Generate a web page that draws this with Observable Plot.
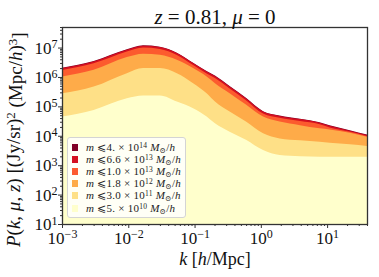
<!DOCTYPE html>
<html><head><meta charset="utf-8">
<script src="https://cdn.jsdelivr.net/npm/d3@7"></script>
<script src="https://cdn.jsdelivr.net/npm/@observablehq/plot@0.6"></script>
<style>
body{margin:0;background:#fff}
#wrap{position:relative;width:379px;height:277px;overflow:hidden}
#wrap svg text{font-family:"Liberation Serif","DejaVu Serif",serif !important}
#legend{position:absolute;left:67px;top:137px;width:119px;height:81px;box-sizing:border-box;border:1px solid #d4d4d4;border-radius:3px;background:rgba(255,255,255,0.82);font-family:"Liberation Serif","DejaVu Serif",serif;font-size:11px;letter-spacing:0.25px;color:#222}
.row{position:absolute;left:0;height:12px;display:flex;align-items:center;white-space:nowrap}
.sw{width:6px;height:7px;margin-left:4px;margin-right:8px;flex:none}
.row sup{font-size:7.5px;vertical-align:3.5px;line-height:0}
.row sub{font-size:7.5px;vertical-align:-1.5px;line-height:0}
</style></head><body><div id="wrap"></div>
<script>
// wavenumber k [h/Mpc]
const k = [0.001, 0.003, 0.0095, 0.0167, 0.030, 0.054, 0.095, 0.152, 0.203, 0.338, 0.596, 1.08, 1.92, 3.9, 7.7, 10.9, 22, 40];
// P(k) for each mass cut
const P_4e14   = [2.07e6, 3.50e6, 8.75e6, 1.20e7, 1.075e7, 6.70e6, 3.06e6, 1.59e6, 1.115e6, 4.90e5, 1.95e5, 6.87e4, 4.90e4, 3.81e4, 2.89e4, 2.28e4, 1.54e4, 1.095e4];
const P_6p6e13 = [2.0e6, 3.38e6, 8.47e6, 1.16e7, 1.04e7, 6.49e6, 2.96e6, 1.54e6, 1.08e6, 4.74e5, 1.89e5, 6.65e4, 4.74e4, 3.69e4, 2.80e4, 2.21e4, 1.49e4, 1.06e4];
const P_1e13   = [1.72e6, 2.90e6, 7.3e6, 1.0e7, 8.95e6, 5.58e6, 2.55e6, 1.32e6, 9.3e5, 4.08e5, 1.63e5, 5.72e4, 4.08e4, 3.17e4, 2.47e4, 1.92e4, 1.36e4, 9.7e3];
const P_1p8e12 = [1.04e6, 1.76e6, 4.74e6, 6.19e6, 5.72e6, 3.86e6, 2.0e6, 1.04e6, 6.14e5, 2.80e5, 1.15e5, 4.49e4, 3.03e4, 2.30e4, 1.79e4, 1.65e4, 1.28e4, 9.3e3];
const P_3e11   = [2.80e5, 4.74e5, 1.35e6, 2.0e6, 2.0e6, 1.35e6, 6.14e5, 2.80e5, 1.46e5, 6.65e4, 3.03e4, 1.21e4, 8.15e3, 7.08e3, 6.29e3, 5.82e3, 5.17e3, 4.49e3];
const P_5e10   = [4.49e4, 7.60e4, 1.89e5, 2.34e5, 2.34e5, 1.46e5, 8.61e4, 4.49e4, 2.65e4, 1.38e4, 7.36e3, 3.27e3, 2.21e3, 2.01e3, 1.94e3, 1.94e3, 1.94e3, 1.94e3];

const massMant = ["4.", "6.6", "1.0", "1.8", "3.0", "5."];
const massExp = [14, 13, 13, 12, 11, 10];
const colors = ["#800026", "#d41020", "#fc5b2e", "#feab49", "#fee087", "#ffffcc"];
const seriesP = [P_4e14, P_6p6e13, P_1e13, P_1p8e12, P_3e11, P_5e10];

const xTicks = [1e-3, 1e-2, 1e-1, 1, 10];
const yTicks = [1e1, 1e2, 1e3, 1e4, 1e5, 1e6, 1e7];
const xDomain = [1e-3, 40];
const yDomain = [1e1, 5e7];

const xMinor = xTicks.flatMap(t => d3.range(2, 10).map(m => m * t)).filter(v => v <= xDomain[1]);
const yMinor = yTicks.flatMap(t => d3.range(2, 10).map(m => m * t)).filter(v => v <= yDomain[1]);

const rows = seriesP.flatMap((P, s) => k.map((kk, i) => ({k: kk, P: P[i], s})));

const serif = '"Liberation Serif", "DejaVu Serif", serif';
const fmt = d => "10^" + Math.round(Math.log10(d));

const chart = Plot.plot({
  width: 379, height: 277,
  marginLeft: 62, marginRight: 12, marginTop: 27, marginBottom: 53,
  style: {background: "#fff", fontFamily: serif},
  x: {type: "log", domain: xDomain},
  y: {type: "log", domain: yDomain},
  marks: [
    ...seriesP.map((P, s) => Plot.areaY(rows.filter(r => r.s === s), {x: "k", y1: yDomain[0], y2: "P", fill: colors[s], curve: "monotone-x"})),
    Plot.axisX({ticks: xMinor, tickSize: 2, tickFormat: () => "", label: null, stroke: "#333"}),
    Plot.axisY({ticks: yMinor, tickSize: 2, tickFormat: () => "", label: null, stroke: "#333"}),
    Plot.axisX({ticks: xTicks, tickSize: 4, tickPadding: 3, tickFormat: fmt, label: null, fontSize: 17, stroke: "#333", fill: "#111"}),
    Plot.axisY({ticks: yTicks, tickSize: 4, tickPadding: 1, tickFormat: fmt, label: null, fontSize: 17, stroke: "#333", fill: "#111"}),
    Plot.frame({stroke: "#333", strokeWidth: 1.3})
  ]
});

const svg = d3.select(chart);
// superscript tick labels
svg.selectAll("g[aria-label$='tick label'] text").each(function() {
  const t = d3.select(this);
  const s = t.text();
  if (!s.includes("^")) return;
  const [base, ex] = s.split("^");
  t.text(base);
  t.append("tspan").attr("dy", "-0.45em").attr("font-size", "12px").text(ex.replace("-", "\u2212"));
});

// title
const title = svg.append("text").attr("x", 215).attr("y", 24).attr("text-anchor", "middle")
  .attr("font-size", 21).attr("fill", "#111");
title.append("tspan").attr("font-style", "italic").text("z");
title.append("tspan").text(" = 0.81, ");
title.append("tspan").attr("font-style", "italic").text("μ");
title.append("tspan").text(" = 0");

// x label
const xl = svg.append("text").attr("x", 215).attr("y", 265).attr("text-anchor", "middle")
  .attr("font-size", 18).attr("fill", "#111");
xl.append("tspan").attr("font-style", "italic").text("k");
xl.append("tspan").text(" [");
xl.append("tspan").attr("font-style", "italic").text("h");
xl.append("tspan").text("/Mpc]");

// y label
const yl = svg.append("text").attr("transform", "translate(20,247) rotate(-90)").attr("text-anchor", "start")
  .attr("font-size", 19).attr("fill", "#111");
const parts = [["P", 1], ["(", 0], ["k", 1], [", ", 0], ["μ", 1], [", ", 0], ["z", 1], [") [(Jy/sr)", 0]];
parts.forEach(([t, it]) => yl.append("tspan").attr("font-style", it ? "italic" : "normal").text(t));
yl.append("tspan").attr("dy", "-0.4em").attr("font-size", "13px").text("2");
yl.append("tspan").attr("dy", "0.4em").text(" (Mpc/");
yl.append("tspan").attr("font-style", "italic").text("h");
yl.append("tspan").text(")");
yl.append("tspan").attr("dy", "-0.4em").attr("font-size", "13px").text("3");
yl.append("tspan").attr("dy", "0.4em").text("]");

const wrap = document.getElementById("wrap");
wrap.appendChild(chart);

// legend
const lg = document.createElement("div");
lg.id = "legend";
massMant.forEach((m, i) => {
  const r = document.createElement("div");
  r.className = "row";
  r.style.top = (3 + i * 12.2) + "px";
  r.innerHTML = `<span class="sw" style="background:${colors[i]}"></span><span><i>m</i> ⩽${m} × 10<sup>${massExp[i]}</sup> <i>M</i><sub>⊙</sub>/<i>h</i></span>`;
  lg.appendChild(r);
});
wrap.appendChild(lg);
</script></body></html>
